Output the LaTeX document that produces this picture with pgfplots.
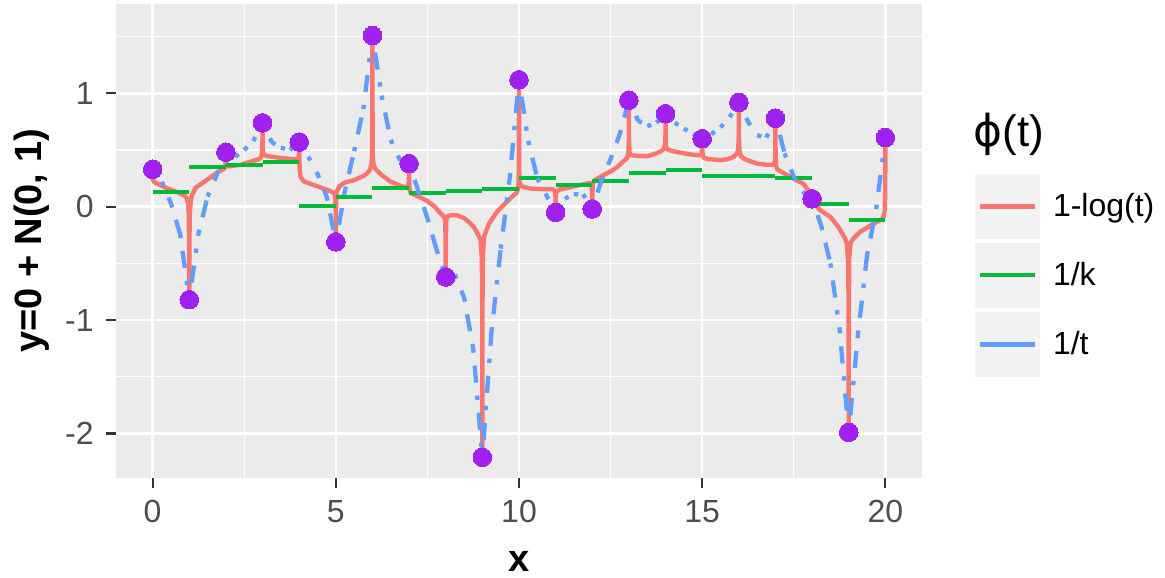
\documentclass[border=0pt]{standalone}
\usepackage{fontspec}
\setmainfont{Liberation Sans}
\newfontfamily\dejavu{DejaVu Sans}
\usepackage{pgfplots}
\pgfplotsset{compat=1.18}
\definecolor{redc}{HTML}{F8766D}
\definecolor{greenc}{HTML}{00BA38}
\definecolor{bluec}{HTML}{619CFF}
\definecolor{purp}{HTML}{A020F0}
\definecolor{panel}{HTML}{EBEBEB}
\definecolor{keybg}{HTML}{F2F2F2}
\definecolor{tickc}{HTML}{4D4D4D}
\definecolor{tickm}{HTML}{333333}
\begin{document}
\begin{tikzpicture}
\useasboundingbox (0,0) rectangle (582.5bp,289bp);
\begin{axis}[
  at={(58bp,50bp)}, anchor=south west,
  scale only axis, width=403bp, height=237bp,
  xmin=-1, xmax=21, ymin=-2.393, ymax=1.788,
  axis background/.style={fill=panel},
  axis line style={draw=none},
  xtick={0,5,10,15,20}, ytick={-2,-1,0,1},
  minor xtick={2.5,7.5,12.5,17.5}, minor ytick={-1.5,-0.5,0.5,1.5},
  xtick pos=bottom, ytick pos=left,
  grid=both,
  major grid style={white, line width=1.3bp},
  minor grid style={white, line width=0.65bp},
  tick align=outside,
  major tick length=5bp, minor tick length=0pt,
  major tick style={tickm, line width=1.1bp},
  /pgf/number format/assume math mode=true,
  ticklabel style={font=\fontsize{16bp}{19bp}\selectfont, text=tickc},
  xticklabel style={anchor=north, inner sep=0pt, yshift=-6bp},
  yticklabel style={anchor=east, inner sep=0pt, xshift=-6bp},
  xlabel={x}, ylabel={y=0 + N(0, 1)},
  label style={font=\bfseries\fontsize{19bp}{22bp}\selectfont},
  xlabel style={at={(axis description cs:0.5,-0.198)}, anchor=base},
  ylabel style={at={(axis description cs:-0.092,0.5)}, anchor=base},
  unbounded coords=jump,
  legend cell align=left,
  legend style={at={(rel axis cs:1.0658,0.6414)}, anchor=north west, draw=none, fill=none,
    inner sep=0pt, outer sep=0pt, row sep=2bp, column sep=6.5bp,
    nodes={inner sep=0pt, font=\fontsize{16bp}{19bp}\selectfont}},
  legend image code/.code={\path[fill=keybg, draw=none, solid] (0bp,-16.25bp) rectangle (32.5bp,16.25bp);
    \draw[#1,solid] (2.5bp,0bp) -- (30bp,0bp);},
]
% 1-log(t)
\addplot[redc, line width=2.2bp, line join=round] coordinates {
(0,0.33) (0.003,0.27) (0.015,0.23) (0.05,0.215)
(0.41,0.16) (0.7,0.125) (0.86,0.10) (0.93,0.075) (0.965,0.04)
(0.985,-0.06) (0.997,-0.33) (1,-0.82) (1.003,-0.33) (1.015,-0.06) (1.035,0.03) (1.07,0.10) (1.18,0.17)
(1.5,0.24) (1.8,0.31) (1.95,0.335)
(1.985,0.36) (1.997,0.40) (2,0.48) (2.003,0.41) (2.015,0.37) (2.05,0.355)
(2.41,0.37) (2.7,0.40) (2.9,0.42) (2.96,0.435)
(2.985,0.47) (2.997,0.56) (3,0.74) (3.003,0.56) (3.015,0.48) (3.05,0.455) (3.15,0.445)
(3.5,0.43) (3.8,0.42) (3.96,0.415)
(3.985,0.44) (3.997,0.48) (4,0.57) (4.003,0.45) (4.015,0.32) (4.04,0.26) (4.12,0.225) (4.32,0.20)
(4.5,0.18) (4.75,0.15) (4.91,0.13) (4.96,0.115)
(4.985,0.08) (4.997,-0.05) (5,-0.31) (5.003,-0.05) (5.015,0.09) (5.04,0.145) (5.1,0.18) (5.22,0.21)
(5.5,0.235) (5.75,0.27) (5.86,0.295) (5.93,0.325)
(5.97,0.37) (5.99,0.45) (5.997,0.7) (6,1.51) (6.003,0.7) (6.01,0.45) (6.03,0.37) (6.09,0.33) (6.23,0.285)
(6.5,0.22) (6.8,0.18) (6.95,0.17)
(6.985,0.20) (6.997,0.26) (7,0.38) (7.003,0.23) (7.015,0.15) (7.05,0.12)
(7.25,0.09) (7.5,0.05) (7.7,0.0) (7.86,-0.06) (7.95,-0.085)
(7.985,-0.12) (7.997,-0.3) (8,-0.62) (8.003,-0.3) (8.015,-0.12) (8.05,-0.085) (8.14,-0.075)
(8.3,-0.075) (8.5,-0.10) (8.65,-0.14) (8.77,-0.18) (8.88,-0.245) (8.95,-0.29)
(8.985,-0.45) (8.997,-0.9) (9,-2.21) (9.003,-0.9) (9.015,-0.42) (9.05,-0.26) (9.18,-0.15)
(9.41,-0.04) (9.68,0.045) (9.85,0.10) (9.93,0.12)
(9.97,0.15) (9.99,0.22) (9.997,0.45) (10,1.12) (10.003,0.45) (10.01,0.24) (10.03,0.20) (10.1,0.175) (10.32,0.16)
(10.6,0.155) (10.86,0.155) (10.95,0.15)
(10.985,0.13) (10.997,0.08) (11,-0.05) (11.003,0.08) (11.015,0.13) (11.1,0.15)
(11.5,0.18) (11.8,0.20) (11.95,0.21)
(11.985,0.18) (11.997,0.11) (12,-0.02) (12.003,0.12) (12.015,0.2) (12.05,0.23) (12.31,0.28)
(12.5,0.31) (12.68,0.35) (12.85,0.40) (12.95,0.43)
(12.985,0.47) (12.997,0.6) (13,0.94) (13.003,0.6) (13.015,0.48) (13.05,0.455) (13.2,0.45)
(13.5,0.445) (13.75,0.47) (13.88,0.49) (13.95,0.51)
(13.985,0.54) (13.997,0.62) (14,0.82) (14.003,0.62) (14.015,0.53) (14.05,0.505) (14.2,0.49)
(14.59,0.465) (14.85,0.455) (14.95,0.455)
(14.985,0.47) (14.997,0.52) (15,0.60) (15.003,0.51) (15.015,0.45) (15.05,0.43) (15.16,0.42)
(15.5,0.41) (15.7,0.42) (15.86,0.44) (15.95,0.47)
(15.985,0.51) (15.997,0.62) (16,0.92) (16.003,0.62) (16.015,0.5) (16.05,0.45) (16.15,0.42)
(16.5,0.38) (16.75,0.37) (16.95,0.37)
(16.985,0.40) (16.997,0.5) (17,0.78) (17.003,0.45) (17.015,0.36) (17.05,0.33) (17.15,0.31)
(17.4,0.265) (17.77,0.2) (17.9,0.14) (17.97,0.10) (18,0.07) (18.05,0.03) (18.22,-0.03)
(18.5,-0.09) (18.72,-0.18) (18.9,-0.28) (18.95,-0.33)
(18.985,-0.5) (18.997,-0.9) (19,-1.99) (19.003,-0.9) (19.015,-0.45) (19.05,-0.32) (19.13,-0.28)
(19.32,-0.22) (19.68,-0.15) (19.9,-0.11) (19.95,-0.09)
(19.985,-0.03) (19.997,0.15) (20,0.61)
};
\addlegendentry{1-log(t)}
% 1/k
\addplot[greenc, line width=2bp] coordinates {
(0,0.13)(1,0.13)(1,nan)
(1,0.35)(2,0.35)(2,nan)
(2,0.37)(3,0.37)(3,nan)
(3,0.39)(4,0.39)(4,nan)
(4,0.01)(5,0.01)(5,nan)
(5,0.09)(6,0.09)(6,nan)
(6,0.165)(7,0.165)(7,nan)
(7,0.12)(8,0.12)(8,nan)
(8,0.14)(9,0.14)(9,nan)
(9,0.16)(10,0.16)(10,nan)
(10,0.25)(11,0.25)(11,nan)
(11,0.19)(12,0.19)(12,nan)
(12,0.23)(13,0.23)(13,nan)
(13,0.30)(14,0.30)(14,nan)
(14,0.32)(15,0.32)(15,nan)
(15,0.27)(16,0.27)(16,nan)
(16,0.27)(17,0.27)(17,nan)
(17,0.255)(18,0.255)(18,nan)
(18,0.02)(19,0.02)(19,nan)
(19,-0.115)(20,-0.115)
};
\addlegendentry{1/k}
% 1/t
\addplot[bluec, line width=2.15bp, line cap=butt, dash pattern=on 2.15bp off 6.45bp on 8.6bp off 6.45bp] coordinates {
(0,0.33)(0.25,0.22)(0.25,nan)
(0.25,0.22)(0.5,0.03)(0.5,nan)
(0.5,0.03)(0.75,-0.24)(0.75,nan)
(0.75,-0.24)(1,-0.82)(1,nan)
(1,-0.82)(1.25,-0.24)(1.25,nan)
(1.25,-0.24)(1.5,0.09)(1.5,nan)
(1.5,0.09)(1.75,0.28)(1.75,nan)
(1.75,0.28)(2,0.48)(2,nan)
(2,0.48)(2.25,0.44)(2.25,nan)
(2.25,0.44)(2.5,0.50)(2.5,nan)
(2.5,0.50)(2.75,0.58)(2.75,nan)
(2.75,0.58)(3,0.74)(3,nan)
(3,0.74)(3.25,0.57)(3.25,nan)
(3.25,0.57)(3.5,0.52)(3.5,nan)
(3.5,0.52)(3.75,0.50)(3.75,nan)
(3.75,0.50)(4,0.57)(4,nan)
(4,0.57)(4.25,0.44)(4.25,nan)
(4.25,0.44)(4.5,0.29)(4.5,nan)
(4.5,0.29)(4.75,0.09)(4.75,nan)
(4.75,0.09)(5,-0.31)(5,nan)
(5,-0.31)(5.25,0.14)(5.25,nan)
(5.25,0.14)(5.5,0.49)(5.5,nan)
(5.5,0.49)(5.75,0.86)(5.75,nan)
(5.75,0.86)(6,1.51)(6,nan)
(6,1.51)(6.25,0.98)(6.25,nan)
(6.25,0.98)(6.5,0.59)(6.5,nan)
(6.5,0.59)(6.75,0.41)(6.75,nan)
(6.75,0.41)(7,0.38)(7,nan)
(7,0.38)(7.25,0.14)(7.25,nan)
(7.25,0.14)(7.5,-0.10)(7.5,nan)
(7.5,-0.10)(7.75,-0.38)(7.75,nan)
(7.75,-0.38)(8,-0.62)(8,nan)
(8,-0.62)(8.25,-0.60)(8.25,nan)
(8.25,-0.60)(8.5,-0.80)(8.5,nan)
(8.5,-0.80)(8.75,-1.25)(8.75,nan)
(8.75,-1.25)(9,-2.21)(9,nan)
(9,-2.21)(9.25,-1.10)(9.25,nan)
(9.25,-1.10)(9.5,-0.37)(9.5,nan)
(9.5,-0.37)(9.75,0.26)(9.75,nan)
(9.75,0.26)(10,1.12)(10,nan)
(10,1.12)(10.25,0.58)(10.25,nan)
(10.25,0.58)(10.5,0.25)(10.5,nan)
(10.5,0.25)(10.75,0.10)(10.75,nan)
(10.75,0.10)(11,-0.05)(11,nan)
(11,-0.05)(11.25,0.07)(11.25,nan)
(11.25,0.07)(11.5,0.11)(11.5,nan)
(11.5,0.11)(11.75,0.11)(11.75,nan)
(11.75,0.11)(12,-0.02)(12,nan)
(12,-0.02)(12.25,0.23)(12.25,nan)
(12.25,0.23)(12.5,0.42)(12.5,nan)
(12.5,0.42)(12.75,0.64)(12.75,nan)
(12.75,0.64)(13,0.94)(13,nan)
(13,0.94)(13.25,0.76)(13.25,nan)
(13.25,0.76)(13.5,0.71)(13.5,nan)
(13.5,0.71)(13.75,0.74)(13.75,nan)
(13.75,0.74)(14,0.82)(14,nan)
(14,0.82)(14.25,0.74)(14.25,nan)
(14.25,0.74)(14.5,0.69)(14.5,nan)
(14.5,0.69)(14.75,0.64)(14.75,nan)
(14.75,0.64)(15,0.60)(15,nan)
(15,0.60)(15.25,0.64)(15.25,nan)
(15.25,0.64)(15.5,0.70)(15.5,nan)
(15.5,0.70)(15.75,0.79)(15.75,nan)
(15.75,0.79)(16,0.92)(16,nan)
(16,0.92)(16.25,0.75)(16.25,nan)
(16.25,0.75)(16.5,0.63)(16.5,nan)
(16.5,0.63)(16.75,0.61)(16.75,nan)
(16.75,0.61)(17,0.78)(17,nan)
(17,0.78)(17.25,0.47)(17.25,nan)
(17.25,0.47)(17.5,0.265)(17.5,nan)
(17.5,0.265)(17.75,0.13)(17.75,nan)
(17.75,0.13)(18,0.07)(18,nan)
(18,0.07)(18.25,-0.17)(18.25,nan)
(18.25,-0.17)(18.5,-0.50)(18.5,nan)
(18.5,-0.50)(18.75,-1.08)(18.75,nan)
(18.75,-1.08)(19,-1.99)(19,nan)
(19,-1.99)(19.25,-1.13)(19.25,nan)
(19.25,-1.13)(19.5,-0.43)(19.5,nan)
(19.5,-0.43)(19.75,-0.02)(19.75,nan)
(19.75,-0.02)(20,0.61)
};
\addlegendentry{1/t}
% observations
\addplot[only marks, mark=*, mark size=4.65bp, mark options={draw=purp, fill=purp, line width=0pt}, forget plot] coordinates {
(0,0.33)(1,-0.82)(2,0.48)(3,0.74)(4,0.57)(5,-0.31)(6,1.51)(7,0.38)(8,-0.62)(9,-2.21)(10,1.12)
(11,-0.05)(12,-0.02)(13,0.94)(14,0.82)(15,0.60)(16,0.92)(17,0.78)(18,0.07)(19,-1.99)(20,0.61)
};
\end{axis}
\node[anchor=west, inner sep=0pt, font=\fontsize{22bp}{26bp}\selectfont] at (486.5bp,222bp) {{\dejavu ϕ}(t)};
\end{tikzpicture}
\end{document}
